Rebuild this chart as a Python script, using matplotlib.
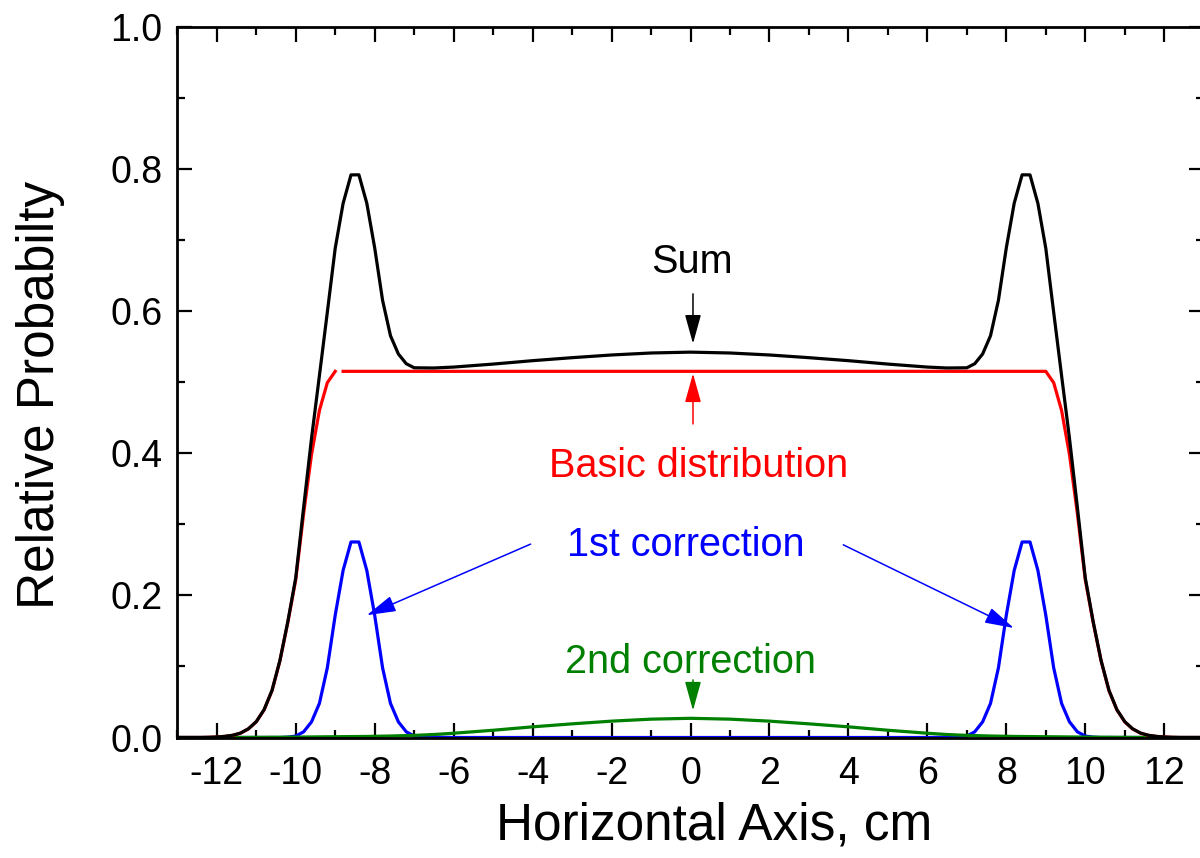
import numpy as np
import matplotlib
matplotlib.use("Agg")
import matplotlib.pyplot as plt
from matplotlib.ticker import MultipleLocator

plt.rcParams["font.family"] = ["Liberation Sans", "DejaVu Sans"]

# Right half of the symmetric profiles (x >= 0, cm); the left half is its mirror image
x_half = [0, 1, 2, 3, 4, 5, 6, 6.5,
          7.0, 7.2, 7.4, 7.6, 7.8, 8.0, 8.2, 8.4, 8.6, 8.8,
          9.0, 9.2, 9.4, 9.6, 9.8, 10.0, 10.2, 10.4, 10.6, 10.8,
          11.0, 11.2, 11.4, 11.6, 11.8, 12.0, 12.2, 12.4, 13.0]

basic_half = [0.515, 0.515, 0.515, 0.515, 0.515, 0.515, 0.515, 0.515,
              0.515, 0.515, 0.515, 0.515, 0.515, 0.515, 0.515, 0.515, 0.515, 0.515,
              0.515, 0.499, 0.460, 0.398, 0.315, 0.222, 0.162, 0.108, 0.066, 0.039,
              0.022, 0.012, 0.006, 0.003, 0.0015, 0.0006, 0.0002, 0.0, 0.0]

first_half = [0.0, 0.0, 0.0, 0.0, 0.0, 0.0, 0.0, 0.0005,
              0.002, 0.008, 0.022, 0.048, 0.098, 0.172, 0.235, 0.275, 0.275, 0.235,
              0.172, 0.098, 0.048, 0.022, 0.008, 0.002, 0.0005, 0.0, 0.0, 0.0,
              0.0, 0.0, 0.0, 0.0, 0.0, 0.0, 0.0, 0.0, 0.0]

second_half = [0.027, 0.0258, 0.0230, 0.0192, 0.0150, 0.0102, 0.0060, 0.0042,
               0.0030, 0.0027, 0.0024, 0.0021, 0.0019, 0.0017, 0.0015, 0.0014, 0.0013, 0.0012,
               0.0011, 0.0010, 0.0009, 0.0008, 0.0007, 0.0006, 0.0005, 0.0004, 0.0004, 0.0003,
               0.0003, 0.0002, 0.0002, 0.0001, 0.0001, 0.0001, 0.0, 0.0, 0.0]

x_ticks = [-12, -10, -8, -6, -4, -2, 0, 2, 4, 6, 8, 10, 12]
y_ticks = [0.0, 0.2, 0.4, 0.6, 0.8, 1.0]


def mirror(values):
    v = np.asarray(values, dtype=float)
    return np.concatenate([v[:0:-1], v])


x = np.concatenate([-np.asarray(x_half, dtype=float)[:0:-1], np.asarray(x_half, dtype=float)])
basic = mirror(basic_half)
first = mirror(first_half)
second = mirror(second_half)
total = basic + first + second

fig = plt.figure(figsize=(12, 8.58), dpi=100)
ax = fig.add_axes([177.3 / 1200, (858 - 737.5) / 858, 1026.4 / 1200, 711 / 858])

lw = 2.3
ax.plot(x, first, color="#0000ff", lw=lw)
ax.plot(x, second, color="#008000", lw=lw)
left = x <= -9.0
ax.plot(x[left], basic[left], color="#ff0000", lw=lw)
ax.plot(x[~left], basic[~left], color="#ff0000", lw=lw)
ax.plot(x, total, color="black", lw=lw)

ax.set_xlim(-13, 13)
ax.set_ylim(0, 1)
ax.set_xticks(x_ticks)
ax.set_yticks(y_ticks)
ax.set_xticklabels([str(t) for t in x_ticks])
ax.set_yticklabels([f"{t:.1f}" for t in y_ticks])
ax.xaxis.set_minor_locator(MultipleLocator(1))
ax.yaxis.set_minor_locator(MultipleLocator(0.1))

for s in ax.spines.values():
    s.set_linewidth(2.0)
ax.tick_params(which="both", direction="in", top=True, right=True, width=1.6, labelsize=27)
ax.tick_params(which="major", length=10.5)
ax.tick_params(which="minor", length=5.8)
ax.tick_params(axis="x", which="major", pad=13)
ax.tick_params(axis="y", which="major", pad=10.8)

fig.text(714.5 / 1200, 1 - 840 / 858, "Horizontal Axis, cm", fontsize=37,
         ha="center", va="baseline")
fig.text(41 / 1200, 1 - 395 / 858, "Relative Probabilty", fontsize=37,
         ha="center", va="center", rotation=90)

fs = 28.5
arrow_kw = dict(arrowstyle="-|>,head_length=0.9,head_width=0.25", lw=1.1,
                shrinkA=0, shrinkB=0, mutation_scale=20)

ax.text(0.04, 0.653, "Sum", color="black", fontsize=fs, ha="center", va="baseline")
ax.annotate("", xy=(0.063, 0.554), xytext=(0.063, 0.624),
            arrowprops=dict(color="black", **arrow_kw))

ax.text(0.215, 0.366, "Basic distribution", color="#ff0000", fontsize=fs,
        ha="center", va="baseline")
ax.annotate("", xy=(0.063, 0.512), xytext=(0.063, 0.441),
            arrowprops=dict(color="#ff0000", **arrow_kw))

ax.text(-0.11, 0.255, "1st correction", color="#0000ff", fontsize=fs,
        ha="center", va="baseline")
ax.annotate("", xy=(-8.20, 0.172), xytext=(-4.05, 0.272),
            arrowprops=dict(color="#0000ff", **arrow_kw))
ax.annotate("", xy=(8.19, 0.154), xytext=(3.87, 0.271),
            arrowprops=dict(color="#0000ff", **arrow_kw))

ax.text(0.01, 0.091, "2nd correction", color="#008000", fontsize=fs,
        ha="center", va="baseline")
ax.annotate("", xy=(0.063, 0.038), xytext=(0.063, 0.081),
            arrowprops=dict(color="#008000", **arrow_kw))

fig.savefig("out.png", dpi=100)
